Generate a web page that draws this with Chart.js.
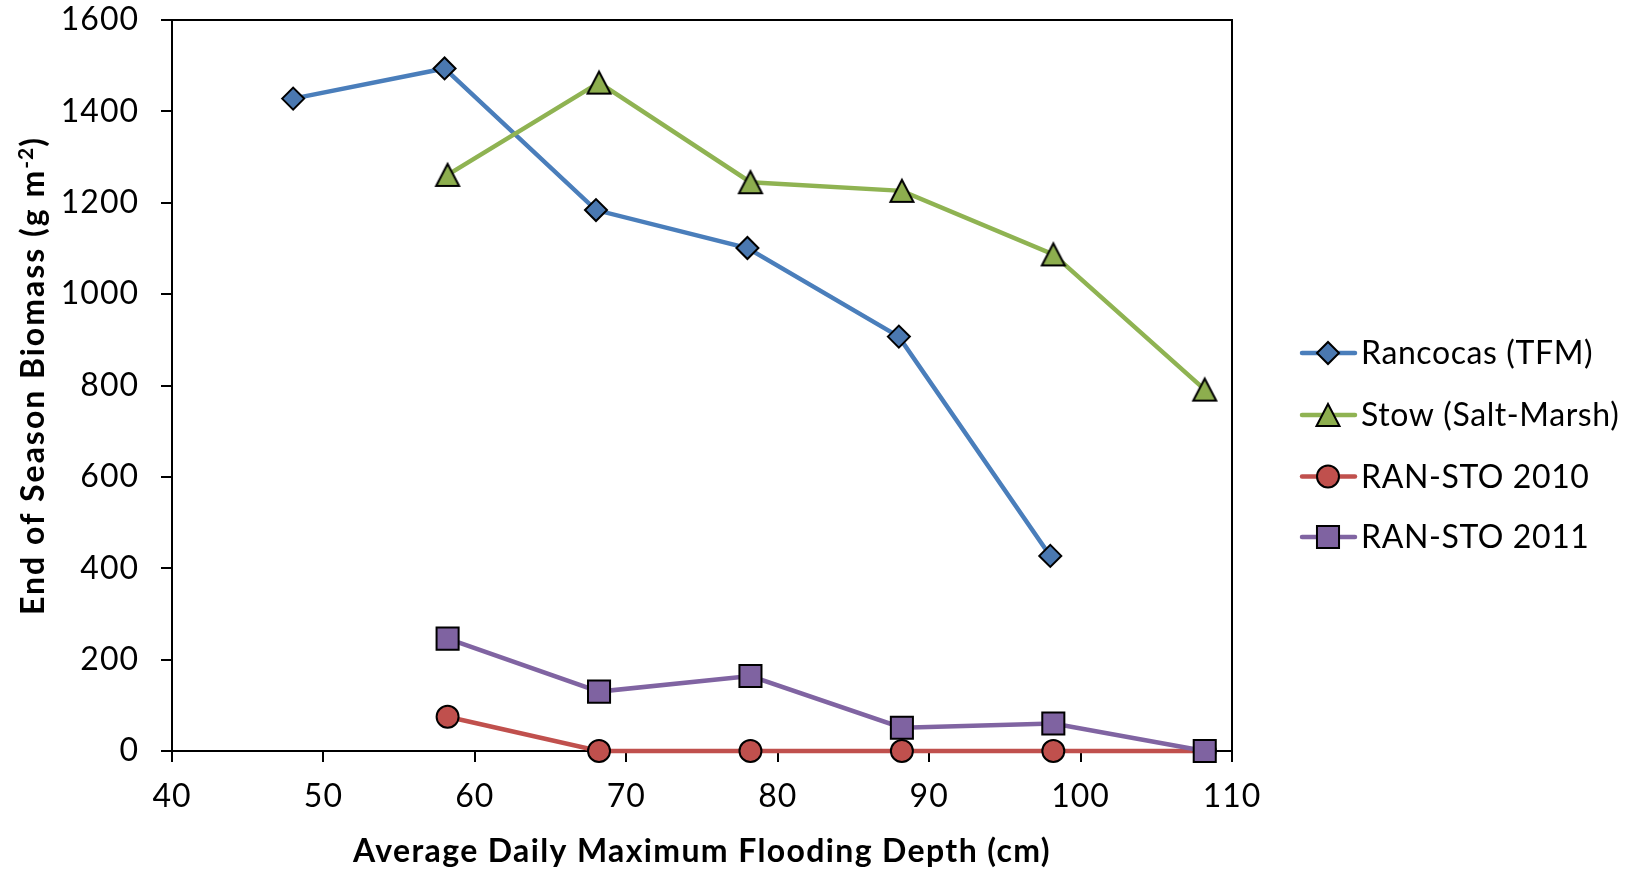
<!DOCTYPE html>
<html>
<head>
<meta charset="utf-8">
<script src="https://cdn.jsdelivr.net/npm/chart.js@4/dist/chart.umd.min.js"></script>
<style>
  html, body { margin: 0; padding: 0; background: #fff; }
  #wrap { width: 1647px; height: 871px; }
</style>
</head>
<body>
<div id="wrap"><canvas id="chart" width="1647" height="871"></canvas></div>
<script>
// flooding depth (cm) for each site
const depthRancocas = [48, 58, 68, 78, 88, 98];
const depthOther = [58.2, 68.2, 78.2, 88.2, 98.2, 108.2];

// end of season biomass (g m-2)
const rancocas = [1428, 1494, 1184, 1101, 907, 427];
const stow = [1261, 1463, 1245, 1226, 1087, 791];
const ranSto2010 = [75, 0, 0, 0, 0, 0];
const ranSto2011 = [246, 130, 164, 51, 60, 0];

const seriesNames = ["Rancocas (TFM)", "Stow (Salt-Marsh)", "RAN-STO 2010", "RAN-STO 2011"];
const xTicks = [40, 50, 60, 70, 80, 90, 100, 110];
const yTicks = [0, 200, 400, 600, 800, 1000, 1200, 1400, 1600];

const FONT = "Lato, 'Open Sans', sans-serif";

function pairs(xs, ys) {
  return xs.map((x, i) => ({ x: x, y: ys[i] }));
}

// triangle marker centred on its bounding box
function triangleMarker(fill) {
  const c = document.createElement("canvas");
  c.width = 30;
  c.height = 30;
  const g = c.getContext("2d");
  g.beginPath();
  g.moveTo(15, 4);
  g.lineTo(26.5, 26);
  g.lineTo(3.5, 26);
  g.closePath();
  g.fillStyle = fill;
  g.fill();
  g.lineWidth = 2;
  g.strokeStyle = "#000";
  g.stroke();
  return c;
}

function series(label, data, line, fill, style, radius, order) {
  return {
    label: label,
    data: data,
    borderColor: line,
    backgroundColor: fill,
    borderWidth: 4.5,
    pointStyle: style,
    pointRadius: radius,
    pointHoverRadius: radius,
    pointBackgroundColor: fill,
    pointBorderColor: "#000",
    pointBorderWidth: 2,
    tension: 0,
    clip: false,
    order: order
  };
}

const datasets = [
  series(seriesNames[0], pairs(depthRancocas, rancocas), "#4A7EBB", "#4A78B0", "rectRot", 11, 3),
  series(seriesNames[1], pairs(depthOther, stow), "#8FB352", "#8DAE4E", triangleMarker("#8DAE4E"), 12, 2),
  series(seriesNames[2], pairs(depthOther, ranSto2010), "#C0504D", "#C0504D", "circle", 11, 1),
  series(seriesNames[3], pairs(depthOther, ranSto2011), "#8064A2", "#7F63A1", "rect", 15.6, 0)
];

// draws text so that it fills the given width
function fitText(ctx, text, x, y, width) {
  ctx.letterSpacing = "0px";
  const w = ctx.measureText(text).width;
  const sp = (width - w) / text.length;
  ctx.letterSpacing = sp + "px";
  ctx.fillText(text, x, y);
  ctx.letterSpacing = "0px";
}

// box around the plot, axis titles and the legend
const extras = {
  id: "extras",
  beforeUpdate(chart) {
    chart.ctx.letterSpacing = "1px";
  },
  beforeDraw(chart) {
    chart.ctx.letterSpacing = "1px";
  },
  afterDatasetsDraw(chart) {
    const ctx = chart.ctx;
    const a = chart.chartArea;
    ctx.save();
    ctx.strokeStyle = "#000";
    ctx.lineWidth = 2;
    ctx.beginPath();
    ctx.moveTo(a.left, a.top);
    ctx.lineTo(a.right, a.top);
    ctx.lineTo(a.right, a.bottom + 11);
    ctx.stroke();
    ctx.restore();
  },
  afterDraw(chart) {
    const ctx = chart.ctx;
    const a = chart.chartArea;
    ctx.save();
    ctx.fillStyle = "#000";
    ctx.textBaseline = "alphabetic";

    // x axis title
    ctx.font = "bold 32px " + FONT;
    ctx.textAlign = "left";
    fitText(ctx, "Average Daily Maximum Flooding Depth (cm)", (a.left + a.right) / 2 - 349, 862, 698);

    // y axis title, with superscript unit
    ctx.save();
    ctx.translate(44, 376);
    ctx.rotate(-Math.PI / 2);
    const main = "End of Season Biomass (g m";
    const sup = "-2";
    const tail = ")";
    const big = "bold 32px " + FONT;
    const small = "bold 21px " + FONT;
    ctx.font = small;
    ctx.letterSpacing = "1px";
    const w2 = ctx.measureText(sup).width;
    ctx.font = big;
    const w3 = ctx.measureText(tail).width;
    const w1 = 478 - w2 - w3;
    let x = -239;
    fitText(ctx, main, x, 0, w1);
    x += w1;
    ctx.font = small;
    ctx.letterSpacing = "1px";
    ctx.fillText(sup, x, -11);
    x += w2;
    ctx.font = big;
    ctx.fillText(tail, x, 0);
    ctx.restore();

    // legend
    const rowY = [353, 415, 476.5, 537];
    chart.data.datasets.forEach((ds, i) => {
      const y = rowY[i];
      ctx.strokeStyle = ds.borderColor;
      ctx.lineWidth = 4.5;
      ctx.lineCap = "round";
      ctx.beginPath();
      ctx.moveTo(1302, y);
      ctx.lineTo(1355, y);
      ctx.stroke();
      ctx.fillStyle = ds.pointBackgroundColor;
      ctx.strokeStyle = "#000";
      ctx.lineWidth = 2;
      Chart.helpers.drawPoint(ctx, { pointStyle: ds.pointStyle, radius: ds.pointRadius, rotation: 0, borderWidth: 2 }, 1328, y);
      ctx.fillStyle = "#000";
      ctx.font = "32px " + FONT;
      ctx.letterSpacing = "0.6px";
      ctx.textBaseline = "middle";
      ctx.fillText(ds.label, 1361, y + 1);
    });
    ctx.restore();
  }
};

new Chart(document.getElementById("chart"), {
  type: "line",
  data: { datasets: datasets },
  plugins: [extras],
  options: {
    responsive: false,
    animation: false,
    events: [],
    layout: { padding: { left: 0, top: 20, right: 415, bottom: 0 } },
    plugins: { legend: { display: false }, tooltip: { enabled: false } },
    scales: {
      x: {
        type: "linear",
        min: 40,
        max: 110,
        afterBuildTicks: (s) => { s.ticks = xTicks.map((v) => ({ value: v })); },
        afterFit: (s) => { s.height = 120; s.paddingLeft = 0; s.paddingRight = 0; },
        grid: { display: true, drawOnChartArea: false, drawTicks: true, tickLength: 11, color: "#000", lineWidth: 2 },
        border: { display: true, color: "#000", width: 2 },
        ticks: {
          color: "#000",
          font: { family: FONT, size: 32 },
          padding: 15,
          maxRotation: 0,
          callback: (v) => String(v)
        }
      },
      y: {
        type: "linear",
        min: 0,
        max: 1600,
        afterBuildTicks: (s) => { s.ticks = yTicks.map((v) => ({ value: v })); },
        afterFit: (s) => { s.width = 172; s.paddingTop = 0; s.paddingBottom = 0; },
        grid: { display: true, drawOnChartArea: false, drawTicks: true, tickLength: 11, color: "#000", lineWidth: 2 },
        border: { display: true, color: "#000", width: 2 },
        ticks: {
          color: "#000",
          font: { family: FONT, size: 32 },
          padding: 22,
          callback: (v) => String(v)
        }
      }
    }
  }
});
</script>
</body>
</html>
